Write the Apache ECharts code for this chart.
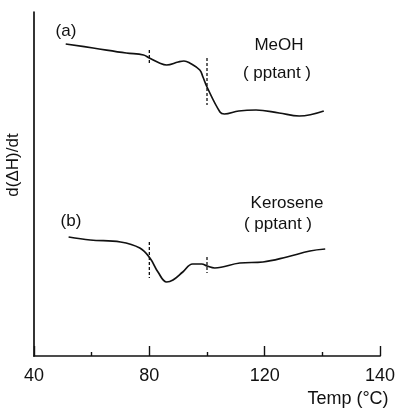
<!DOCTYPE html>
<html>
<head>
<meta charset="utf-8">
<script src="https://cdn.jsdelivr.net/npm/echarts@6/dist/echarts.min.js"></script>
<style>
  html, body { margin: 0; padding: 0; background: #fff; }
  #chart { width: 401px; height: 408px; }
</style>
</head>
<body>
<div id="chart"></div>
<script>
// curve (a) MeOH pptant
var tempA = [51, 60.5, 72, 78, 80, 83.5, 86, 90, 92, 94, 97.5, 98.6, 100, 104.5, 106, 111, 117, 125, 132, 140.5];
var valA = [312, 308, 303, 301, 298, 293, 291, 294, 295, 293, 286, 279, 269, 244, 242, 245, 246, 243, 240, 245];
// curve (b) Kerosene pptant
var tempB = [52, 59.5, 70, 76.7, 80.2, 83, 86, 88.2, 91.6, 95, 98.2, 100, 102.7, 111.4, 119.4, 127.7, 135.7, 141];
var valB = [119, 116, 114, 108, 98, 84, 74, 76, 84, 92, 92, 90, 88, 93, 94, 99, 105, 107];
// dashed markers [temp, from, to]
var marksA = [[80, 306, 291], [100, 298, 251]];
var marksB = [[80, 114, 78], [100, 99, 83]];
// x ticks and their printed labels
var tickValues = [40, 80, 120, 160];
var tickLabels = ["40", "80", "120", "140"];

var ink = "#111";
var font = "Liberation Sans";

function pairs(xs, ys) {
  return xs.map(function(x, i) { return [x, ys[i]]; });
}

var series = [
  { type: "line", data: pairs(tempA, valA), smooth: 0.4, symbol: "none",
    lineStyle: { color: ink, width: 1.7 } },
  { type: "line", data: pairs(tempB, valB), smooth: 0.4, symbol: "none",
    lineStyle: { color: ink, width: 1.7 } }
];
marksA.concat(marksB).forEach(function(m) {
  series.push({
    type: "line", symbol: "none", silent: true,
    data: [[m[0], m[1]], [m[0], m[2]]],
    lineStyle: { color: ink, width: 1.3, type: [3, 2] }
  });
});

function txt(x, y, s, size, extra) {
  var o = { type: "text", x: x, y: y,
    style: { text: s, fill: ink, font: size + "px '" + font + "'", align: "center", verticalAlign: "middle" } };
  if (extra) for (var k in extra) o[k] = extra[k];
  return o;
}

var chart = echarts.init(document.getElementById("chart"));
chart.setOption({
  animation: false,
  grid: { left: 34, right: 21, top: 12, bottom: 52 },
  xAxis: {
    type: "value", min: 40, max: 160, interval: 40,
    axisLine: { lineStyle: { color: ink, width: 1.7 } },
    axisTick: { inside: true, length: 10, lineStyle: { color: ink, width: 1.4 } },
    minorTick: { show: true, splitNumber: 2, length: 4, lineStyle: { color: ink, width: 1.4 } },
    splitLine: { show: false },
    axisLabel: {
      color: ink, fontSize: 18, fontFamily: font, margin: 11,
      formatter: function(v) {
        var i = tickValues.indexOf(v);
        return i >= 0 ? tickLabels[i] : "";
      }
    }
  },
  yAxis: {
    type: "value", min: 0, max: 344,
    axisLine: { show: true, lineStyle: { color: ink, width: 1.7 } },
    axisTick: { show: false }, axisLabel: { show: false }, splitLine: { show: false }
  },
  graphic: [
    txt(13, 165, "d(ΔH)/dt", 17, { rotation: Math.PI / 2 }),
    txt(66, 31, "(a)", 17),
    txt(71, 221, "(b)", 17),
    txt(279, 45, "MeOH", 17),
    txt(277, 73, "( pptant )", 17),
    txt(287, 203, "Kerosene", 17),
    txt(278, 224, "( pptant )", 17),
    txt(348, 399, "Temp (°C)", 18)
  ],
  series: series
});
</script>
</body>
</html>
